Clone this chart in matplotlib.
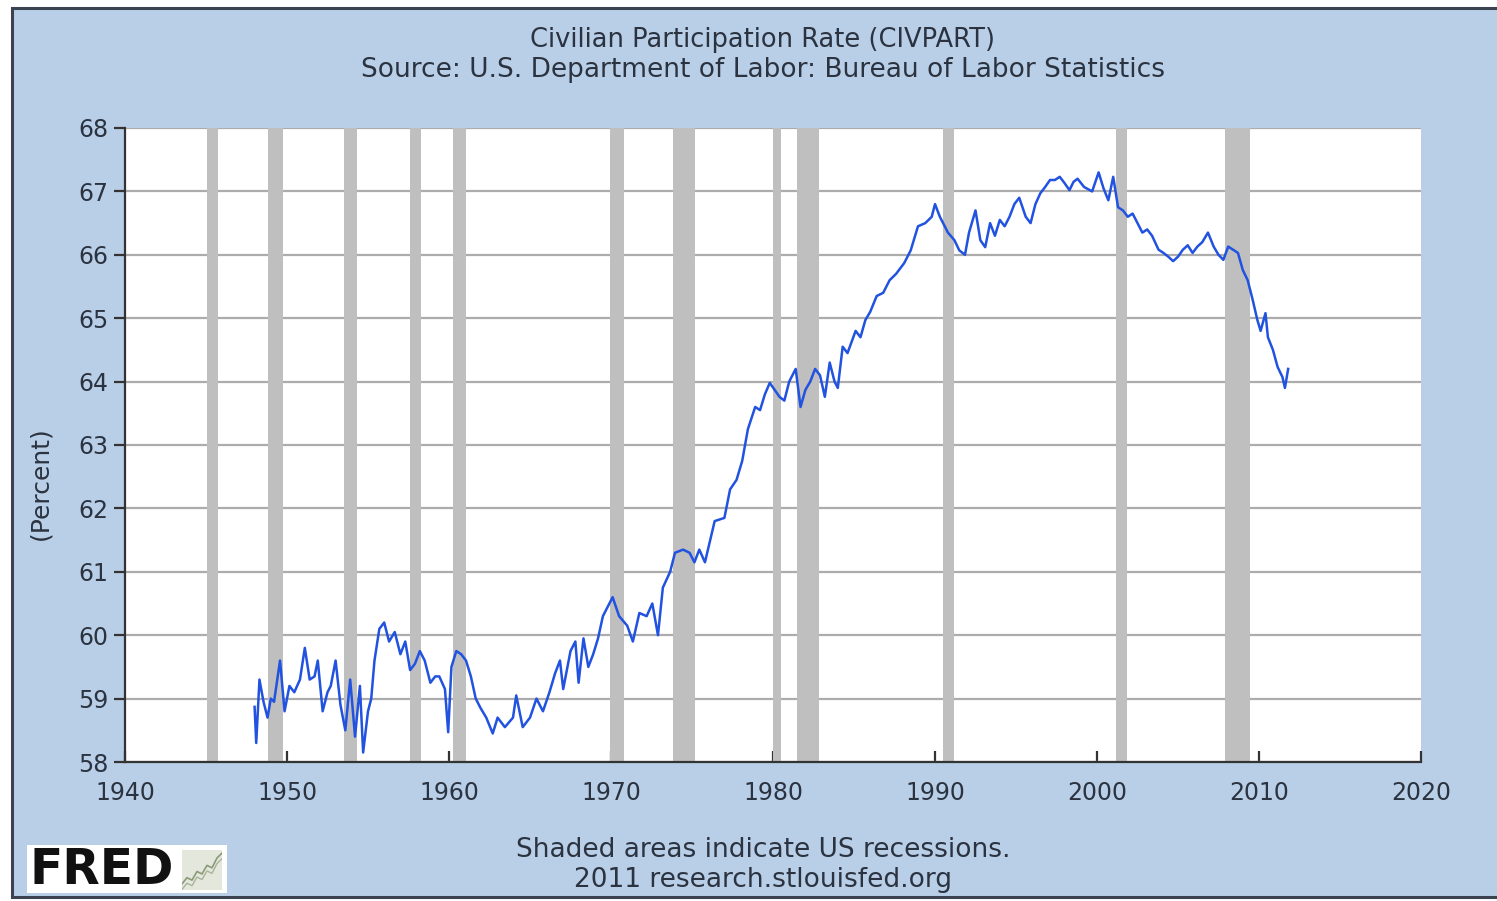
import matplotlib
matplotlib.use("Agg")
import matplotlib.pyplot as plt
from matplotlib.patches import Rectangle

# ---------------- data ----------------
years = [
    1948.00, 1948.10, 1948.30, 1948.55, 1948.80, 1949.00, 1949.20, 1949.57, 1949.85,
    1950.15, 1950.45, 1950.80, 1951.10, 1951.40, 1951.70, 1951.90, 1952.20, 1952.50,
    1952.70, 1953.00, 1953.30, 1953.60, 1953.90, 1954.20, 1954.50, 1954.70, 1955.00,
    1955.20, 1955.40, 1955.70, 1956.00, 1956.30, 1956.65, 1957.00, 1957.30, 1957.60,
    1957.90, 1958.20, 1958.50, 1958.85, 1959.15, 1959.40, 1959.75, 1959.95, 1960.15,
    1960.45, 1960.75, 1961.05, 1961.35, 1961.65, 1961.95, 1962.30, 1962.70, 1963.00,
    1963.45, 1963.95, 1964.15, 1964.55, 1965.00, 1965.40, 1965.80, 1966.20, 1966.55,
    1966.85, 1967.05, 1967.50, 1967.80, 1968.00, 1968.30, 1968.60, 1968.90, 1969.20,
    1969.50, 1969.90, 1970.10, 1970.50, 1971.00, 1971.35, 1971.75, 1972.20, 1972.55,
    1972.90, 1973.20, 1973.65, 1973.95, 1974.45, 1974.85, 1975.15, 1975.45, 1975.80,
    1976.40, 1977.00, 1977.35, 1977.75, 1978.10, 1978.45, 1978.90, 1979.20, 1979.50,
    1979.80, 1980.10, 1980.40, 1980.70, 1981.00, 1981.40, 1981.70, 1982.00, 1982.30,
    1982.60, 1982.90, 1983.20, 1983.50, 1983.80, 1984.00, 1984.30, 1984.60, 1985.10,
    1985.40, 1985.70, 1986.00, 1986.40, 1986.80, 1987.20, 1987.60, 1988.10, 1988.50,
    1988.95, 1989.40, 1989.80, 1990.00, 1990.30, 1990.80, 1991.20, 1991.50, 1991.85,
    1992.10, 1992.50, 1992.80, 1993.10, 1993.40, 1993.70, 1994.00, 1994.30, 1994.60,
    1994.90, 1995.20, 1995.60, 1995.90, 1996.20, 1996.50, 1996.80, 1997.10, 1997.40,
    1997.70, 1998.00, 1998.30, 1998.55, 1998.80, 1999.20, 1999.70, 2000.10, 2000.40,
    2000.70, 2001.00, 2001.30, 2001.60, 2001.90, 2002.20, 2002.50, 2002.80, 2003.10,
    2003.40, 2003.80, 2004.10, 2004.40, 2004.70, 2005.00, 2005.30, 2005.60, 2005.90,
    2006.20, 2006.50, 2006.85, 2007.20, 2007.50, 2007.80, 2008.10, 2008.40, 2008.70,
    2009.00, 2009.30, 2009.60, 2009.90, 2010.10, 2010.40, 2010.55, 2010.86, 2011.15,
    2011.45, 2011.60, 2011.80,
]
civpart = [
    58.87, 58.30, 59.30, 58.95, 58.70, 59.00, 58.95, 59.60, 58.80,
    59.20, 59.10, 59.30, 59.80, 59.30, 59.35, 59.60, 58.80, 59.10,
    59.20, 59.60, 58.90, 58.50, 59.30, 58.40, 59.20, 58.15, 58.80,
    59.00, 59.60, 60.10, 60.20, 59.90, 60.05, 59.70, 59.90, 59.45,
    59.55, 59.75, 59.60, 59.25, 59.35, 59.35, 59.15, 58.47, 59.50,
    59.75, 59.70, 59.60, 59.35, 59.00, 58.85, 58.70, 58.45, 58.70,
    58.55, 58.70, 59.05, 58.55, 58.70, 59.00, 58.80, 59.10, 59.40,
    59.60, 59.15, 59.75, 59.90, 59.25, 59.95, 59.50, 59.70, 59.95,
    60.30, 60.50, 60.60, 60.30, 60.15, 59.90, 60.35, 60.30, 60.50,
    60.00, 60.75, 61.00, 61.30, 61.35, 61.30, 61.15, 61.35, 61.15,
    61.80, 61.85, 62.30, 62.45, 62.75, 63.25, 63.60, 63.55, 63.80,
    63.98, 63.87, 63.76, 63.70, 64.00, 64.20, 63.60, 63.87, 64.00,
    64.20, 64.10, 63.76, 64.30, 64.00, 63.90, 64.55, 64.45, 64.80,
    64.70, 64.97, 65.10, 65.35, 65.40, 65.60, 65.70, 65.87, 66.07,
    66.45, 66.50, 66.60, 66.80, 66.60, 66.35, 66.23, 66.07, 66.00,
    66.35, 66.70, 66.23, 66.12, 66.50, 66.30, 66.55, 66.45, 66.60,
    66.80, 66.90, 66.60, 66.50, 66.80, 66.97, 67.07, 67.18, 67.18,
    67.23, 67.13, 67.02, 67.15, 67.20, 67.07, 67.00, 67.30, 67.05,
    66.86, 67.23, 66.75, 66.70, 66.60, 66.65, 66.50, 66.35, 66.40,
    66.30, 66.08, 66.03, 65.97, 65.90, 65.97, 66.08, 66.15, 66.03,
    66.13, 66.20, 66.35, 66.13, 66.00, 65.92, 66.13, 66.08, 66.03,
    65.76, 65.60, 65.30, 64.97, 64.80, 65.08, 64.70, 64.50, 64.23,
    64.07, 63.90, 64.20,
]
recession_start = [1945.08, 1948.83, 1953.50, 1957.58, 1960.25, 1969.92,
                   1973.83, 1980.00, 1981.50, 1990.50, 2001.17, 2007.92]
recession_end = [1945.75, 1949.75, 1954.33, 1958.25, 1961.08, 1970.83,
                 1975.17, 1980.50, 1982.83, 1991.17, 2001.83, 2009.42]
x_ticks = [1940, 1950, 1960, 1970, 1980, 1990, 2000, 2010, 2020]
y_ticks = [58, 59, 60, 61, 62, 63, 64, 65, 66, 67, 68]

# small logo sparkline (decorative icon next to "FRED")
logo_icon_x = [0, 1, 2, 3, 4, 5, 6, 7, 8]
logo_icon_y = [1.0, 2.0, 1.6, 3.0, 2.6, 4.0, 3.6, 5.2, 6.0]

title_text = "Civilian Participation Rate (CIVPART)"
source_text = "Source: U.S. Department of Labor: Bureau of Labor Statistics"
ylabel_text = "(Percent)"
note_text = "Shaded areas indicate US recessions."
credit_text = "2011 research.stlouisfed.org"

# ---------------- styling ----------------
W, H = 1497, 901
BG = "#b9cfe7"
TXT = "#2b3340"
LINE = "#2152e0"
BAR = "#bfbfbf"
GRID = "#acacac"

fig = plt.figure(figsize=(W / 100, H / 100), dpi=100, facecolor="white")

# outer light-blue panel with dark border
panel = Rectangle((12 / W, 1 - 897 / H), 1.1, (897 - 8) / H,
                  transform=fig.transFigure, facecolor=BG,
                  edgecolor="#3c4350", linewidth=2.2, zorder=-5)
fig.patches.append(panel)

ax = fig.add_axes([125 / W, 1 - 762 / H, (1421 - 125) / W, (762 - 128) / H])
ax.set_zorder(2)
ax.set_facecolor("white")

for s, e in zip(recession_start, recession_end):
    ax.axvspan(s, e, color=BAR, lw=0, zorder=2)

ax.set_yticks(y_ticks)
ax.set_xticks(x_ticks)
ax.grid(axis="y", color=GRID, lw=1.6, zorder=1)
ax.grid(axis="x", visible=False)
ax.set_axisbelow(True)

ax.plot(years, civpart, color=LINE, lw=1.8, zorder=3)

ax.set_xlim(1940, 2020)
ax.set_ylim(58, 68)

for side in ("top", "right"):
    ax.spines[side].set_visible(False)
for side in ("left", "bottom"):
    ax.spines[side].set_color("#333333")
    ax.spines[side].set_linewidth(1.6)
    ax.spines[side].set_zorder(4)

ax.tick_params(axis="y", direction="out", length=8, width=1.6, color="#333333",
               labelsize=17, labelcolor=TXT, pad=4)
ax.tick_params(axis="x", direction="in", length=8, width=1.6, color="#333333",
               labelsize=17, labelcolor=TXT, pad=14)

fig.text(40 / W, 1 - 483 / H, ylabel_text, ha="center", va="center",
         rotation=90, fontsize=18, color=TXT)

fig.text(763 / W, 1 - 40 / H, title_text, ha="center", va="center",
         fontsize=18.5, color=TXT)
fig.text(763 / W, 1 - 70 / H, source_text, ha="center", va="center",
         fontsize=19, color=TXT)
fig.text(763 / W, 1 - 850 / H, note_text, ha="center", va="center",
         fontsize=19, color=TXT)
fig.text(763 / W, 1 - 880 / H, credit_text, ha="center", va="center",
         fontsize=19, color=TXT)

# FRED logo box
logo = Rectangle((27 / W, 1 - 893 / H), (227 - 27) / W, (893 - 845) / H,
                 transform=fig.transFigure, facecolor="white",
                 edgecolor="none", zorder=-4)
fig.patches.append(logo)
fig.text(30 / W, 1 - 870 / H, "FRED", ha="left", va="center", fontsize=35,
         fontweight="bold", color="#111111")
icon = fig.add_axes([182 / W, 1 - 890 / H, (222 - 182) / W, (890 - 850) / H])
icon.set_facecolor("#e4e8dc")
icon.plot(logo_icon_x, logo_icon_y, color="#8a9a78", lw=1.2)
icon.plot(logo_icon_x, [v - 0.9 for v in logo_icon_y], color="#a9b39a", lw=1.0)
icon.set_xlim(0, 8)
icon.set_ylim(0, 6.5)
icon.set_xticks([])
icon.set_yticks([])
for sp in icon.spines.values():
    sp.set_visible(False)

fig.savefig("out.png", dpi=100, facecolor=fig.get_facecolor())
